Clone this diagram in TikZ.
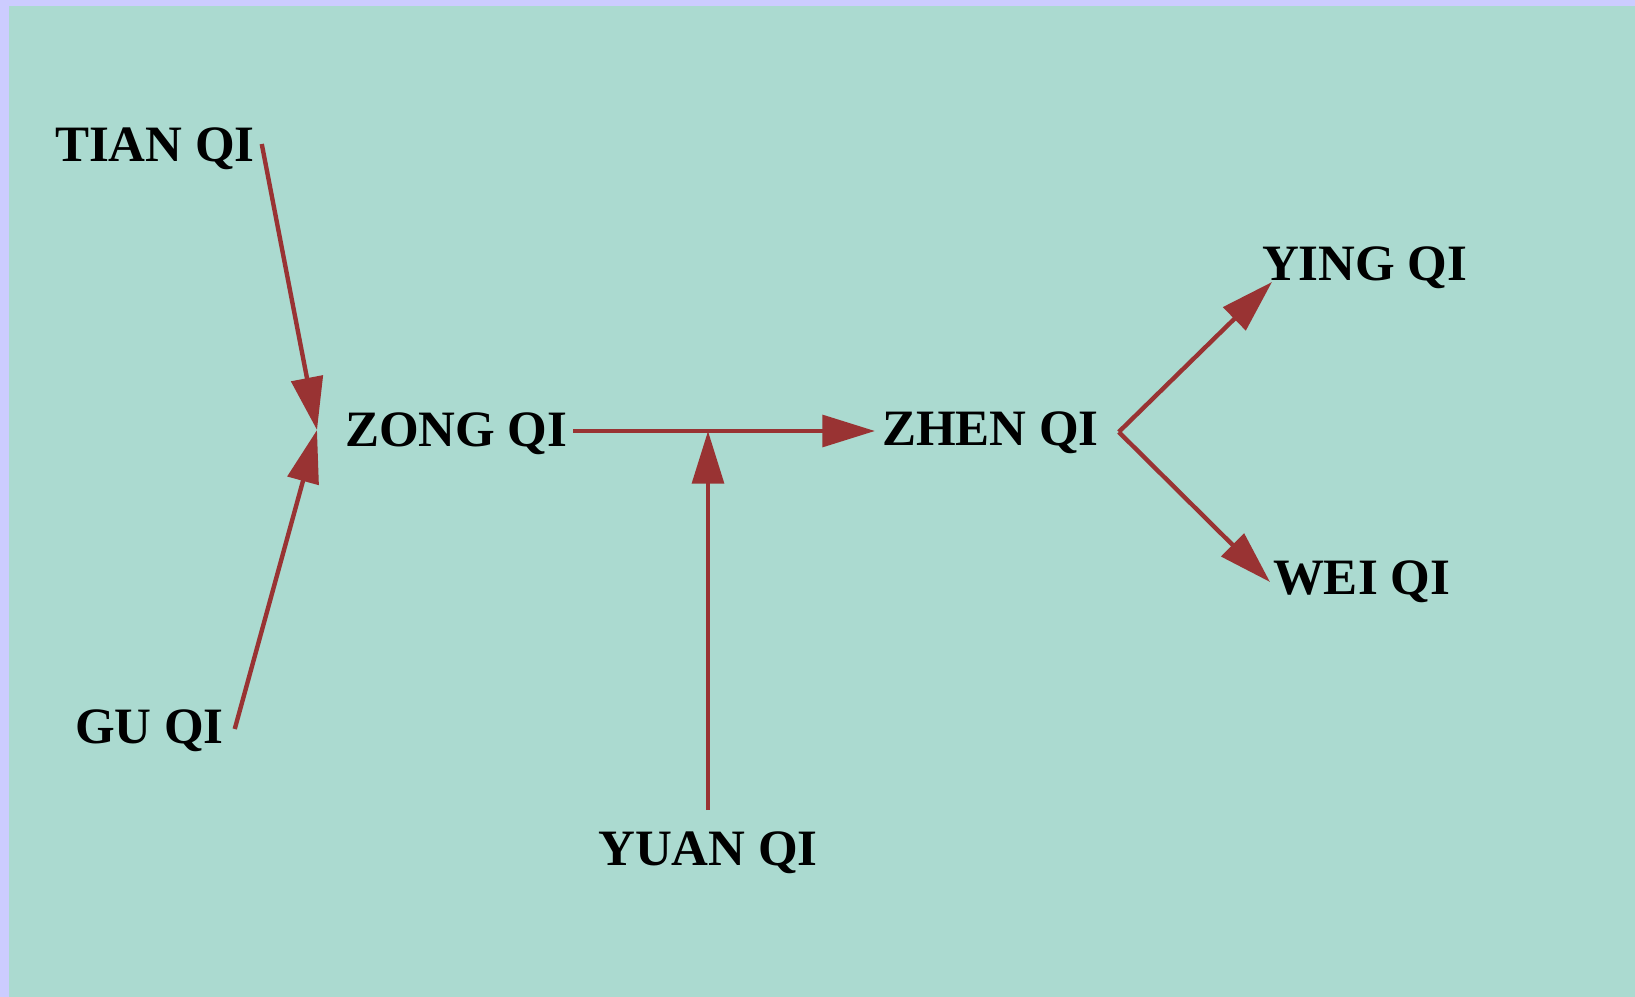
\documentclass[tikz,border=0pt]{standalone}
\usepackage{fontspec}
\setmainfont{Liberation Serif}
\usetikzlibrary{arrows.meta}
\definecolor{bgteal}{RGB}{171,218,208}
\definecolor{bglav}{RGB}{204,204,255}
\definecolor{arrred}{RGB}{153,51,51}
\tikzset{
  lbl/.style={anchor=base west, inner sep=0pt, outer sep=0pt, font=\fontsize{14.5}{17}\selectfont\bfseries, text=black},
  qiarrow/.style={draw=arrred, line width=1.25pt, -{Triangle[length=15pt,width=9pt]}, color=arrred}
}
\begin{document}
\begin{tikzpicture}[x=0.01cm,y=-0.01cm]
\useasboundingbox (0,0) rectangle (1635,997);
\fill[bglav] (0,0) rectangle (1635,997);
\fill[bgteal] (9,6) rectangle (1635,997);

\node[lbl] (tian) at (55,162) {TIAN QI};
\node[lbl] (gu) at (75,743) {GU QI};
\node[lbl] (zong) at (345,447) {ZONG QI};
\node[lbl] (zhen) at (882,446) {ZHEN QI};
\node[lbl, anchor=base] (yuan) at (708,866) {YUAN QI};
\node[lbl] (ying) at (1262,281) {YING QI};
\node[lbl] (wei) at (1273,595) {WEI QI};

\coordinate (tout) at ([shift={(7,-18)}]tian.base east);
\coordinate (gout) at ([shift={(11,-14)}]gu.base east);
\coordinate (zin) at ([shift={(-28,-17)}]zong.base west);
\coordinate (zout) at ([shift={(6,-16)}]zong.base east);
\coordinate (hin) at ([shift={(-7,-15)}]zhen.base west);
\coordinate (hout) at ([shift={(20,-14)}]zhen.base east);
\coordinate (yout) at ([shift={(0,-56)}]yuan.base);
\coordinate (jn) at (yuan.base |- zout);
\coordinate (yin) at ([shift={(10,1)}]ying.base west);
\coordinate (win) at ([shift={(-3,-13)}]wei.base west);

\draw[qiarrow] (tout) -- (zin);
\draw[qiarrow] (gout) -- (zin);
\draw[qiarrow] (zout) -- (hin);
\draw[qiarrow] (yout) -- (jn);
\draw[qiarrow] (hout) -- (yin);
\draw[qiarrow] (hout) -- (win);
\end{tikzpicture}
\end{document}
